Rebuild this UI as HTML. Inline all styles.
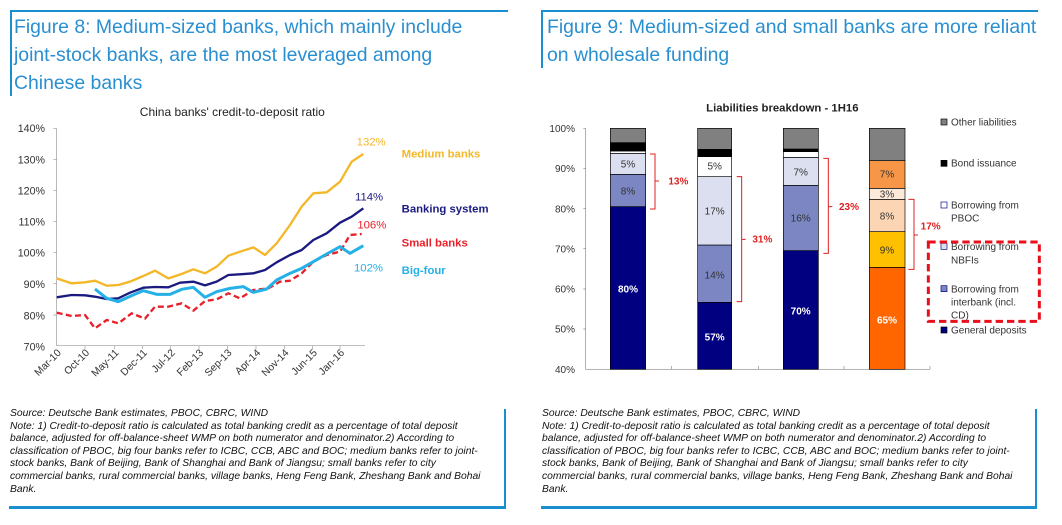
<!DOCTYPE html>
<html><head><meta charset="utf-8"><style>
body{margin:0;width:1062px;height:525px;background:#fff;position:relative;overflow:hidden;font-family:"Liberation Sans",sans-serif}
.t{position:absolute;color:#2a8fd0;font-size:19.4px;line-height:28px}
.f{position:absolute;font-size:10.3px;line-height:12.6px;font-style:italic;color:#111;width:472px}
.b{position:absolute;background:#1a8fcf}
svg{position:absolute}
</style></head><body>
<div class="b" style="left:11px;top:10px;width:497px;height:2px"></div>
<div class="b" style="left:10px;top:10px;width:2px;height:86px"></div>
<div class="t" style="left:14px;top:13px">Figure 8: Medium-sized banks, which mainly include<br>joint-stock banks, are the most leveraged among<br>Chinese banks</div>
<div class="b" style="left:542px;top:10px;width:496px;height:2px"></div>
<div class="b" style="left:541px;top:10px;width:2px;height:58px"></div>
<div class="t" style="left:547px;top:13px">Figure 9: Medium-sized and small banks are more reliant<br>on wholesale funding</div>

<svg style="left:0;top:100px" width="530" height="310" viewBox="0 0 1590 930" font-family="Liberation Sans, sans-serif">
<text x="697" y="48" font-size="36" text-anchor="middle" fill="#222">China banks' credit-to-deposit ratio</text>
<g font-size="32" fill="#333" text-anchor="end">
<text x="135" y="96">140%</text><text x="135" y="190">130%</text><text x="135" y="283">120%</text><text x="135" y="377">110%</text><text x="135" y="470">100%</text><text x="135" y="564">90%</text><text x="135" y="658">80%</text><text x="135" y="751">70%</text></g>
<g stroke="#999" stroke-width="2" fill="none"><path d="M170 85V737H1095"/>
<path d="M160 85h10M160 178h10M160 271h10M160 364h10M160 458h10M160 551h10M160 645h10M255 737v10M343 737v10M428 737v10M512 737v10M597 737v10M682 737v10M768 737v10M853 737v10M938 737v10M1020 737v10"/></g>
<g font-size="31" fill="#333" text-anchor="end">
<text transform="translate(185,760) rotate(-45)">Mar-10</text><text transform="translate(270,760) rotate(-45)">Oct-10</text><text transform="translate(358,760) rotate(-45)">May-11</text><text transform="translate(443,760) rotate(-45)">Dec-11</text><text transform="translate(527,760) rotate(-45)">Jul-12</text><text transform="translate(612,760) rotate(-45)">Feb-13</text><text transform="translate(697,760) rotate(-45)">Sep-13</text><text transform="translate(783,760) rotate(-45)">Apr-14</text><text transform="translate(868,760) rotate(-45)">Nov-14</text><text transform="translate(953,760) rotate(-45)">Jun-15</text><text transform="translate(1035,760) rotate(-45)">Jan-16</text></g>
<g fill="none" stroke-width="7" stroke-linejoin="round">
<polyline stroke="#f4b728" points="170,535 215,550 255,547 285,542 320,557 355,555 390,545 430,528 465,512 505,535 545,522 580,508 615,520 650,500 685,467 720,455 760,442 795,465 830,430 870,375 905,320 940,280 980,277 1020,245 1055,185 1090,162"/>
<polyline stroke="#1a1a80" points="170,592 215,585 255,586 285,590 320,597 355,595 390,578 430,563 465,561 505,562 540,548 580,545 615,556 650,545 685,525 720,523 760,520 795,510 830,487 870,465 905,450 940,420 980,400 1020,368 1055,350 1090,325"/>
<polyline stroke="#e8202a" stroke-dasharray="18 10" points="170,638 215,648 255,645 285,685 320,660 355,670 395,640 435,656 465,620 505,620 545,610 580,632 615,603 650,598 685,580 720,595 760,570 805,565 840,545 870,542 905,520 940,485 980,465 1020,455 1050,405 1085,402"/>
<polyline stroke="#25b0e6" stroke-width="9" points="285,567 320,595 355,605 395,587 430,572 470,583 510,583 545,568 580,562 615,592 650,575 690,565 730,560 760,577 800,567 830,540 870,520 905,505 940,485 980,462 1020,440 1050,460 1090,437"/></g>
<g font-size="34"><text x="1070" y="137" fill="#f4b728">132%</text><text x="1065" y="302" fill="#1a1a80">114%</text><text x="1072" y="386" fill="#e8202a">106%</text><text x="1062" y="515" fill="#25b0e6">102%</text></g>
<g font-size="34" font-weight="bold"><text x="1205" y="172" fill="#f4b728">Medium banks</text><text x="1205" y="338" fill="#1a1a80">Banking system</text><text x="1205" y="440" fill="#e8202a">Small banks</text><text x="1205" y="522" fill="#25b0e6">Big-four</text></g>
</svg>

<svg style="left:535px;top:100px" width="527" height="310" viewBox="0 0 1581 930" font-family="Liberation Sans, sans-serif">
<text x="742" y="35" font-size="34" text-anchor="middle" font-weight="bold" fill="#222">Liabilities breakdown  - 1H16</text>
<g font-size="30" fill="#333" text-anchor="end">
<text x="120" y="96">100%</text><text x="120" y="216">90%</text><text x="120" y="337">80%</text><text x="120" y="457">70%</text><text x="120" y="578">60%</text><text x="120" y="698">50%</text><text x="120" y="819">40%</text></g>
<g stroke="#888" stroke-width="2" fill="none"><path d="M152 85V808H1185M410 798v10M670 798v10M927 798v10M1185 798v10M145 85h7M145 205h7M145 326h7M145 446h7M145 567h7M145 687h7"/></g>
<g stroke="#000" stroke-width="2">
<rect x="226" y="320" width="106" height="488" fill="#000080"/><rect x="226" y="223" width="106" height="97" fill="#7b86c2"/><rect x="226" y="160" width="106" height="63" fill="#dcdff0"/><rect x="226" y="153" width="106" height="7" fill="#fff"/><rect x="226" y="128" width="106" height="25" fill="#000"/><rect x="226" y="85" width="106" height="43" fill="#808080"/>
<rect x="488" y="607" width="102" height="201" fill="#000080"/><rect x="488" y="435" width="102" height="172" fill="#7b86c2"/><rect x="488" y="230" width="102" height="205" fill="#dcdff0"/><rect x="488" y="170" width="102" height="60" fill="#fff"/><rect x="488" y="148" width="102" height="22" fill="#000"/><rect x="488" y="85" width="102" height="63" fill="#808080"/>
<rect x="745" y="452" width="105" height="356" fill="#000080"/><rect x="745" y="256" width="105" height="196" fill="#7b86c2"/><rect x="745" y="172" width="105" height="84" fill="#dcdff0"/><rect x="745" y="155" width="105" height="17" fill="#fff"/><rect x="745" y="147" width="105" height="8" fill="#000"/><rect x="745" y="85" width="105" height="62" fill="#808080"/>
<rect x="1003" y="502" width="107" height="306" fill="#ff6600"/><rect x="1003" y="395" width="107" height="107" fill="#ffc000"/><rect x="1003" y="298" width="107" height="97" fill="#fcd5b4"/><rect x="1003" y="265" width="107" height="33" fill="#fde9d9"/><rect x="1003" y="182" width="107" height="83" fill="#f79646"/><rect x="1003" y="85" width="107" height="97" fill="#808080"/></g>
<g font-size="30" text-anchor="middle" fill="#333">
<text x="279" y="202">5%</text><text x="279" y="283">8%</text><text x="539" y="208">5%</text><text x="539" y="343">17%</text><text x="539" y="535">14%</text><text x="797" y="226">7%</text><text x="797" y="364">16%</text><text x="1056" y="232">7%</text><text x="1056" y="292">3%</text><text x="1056" y="358">8%</text><text x="1056" y="460">9%</text></g>
<g font-size="30" text-anchor="middle" fill="#fff" font-weight="bold"><text x="279" y="578">80%</text><text x="539" y="722">57%</text><text x="797" y="644">70%</text><text x="1056" y="670">65%</text></g>
<g stroke="#e02020" stroke-width="3" fill="none"><path d="M345 162h15v165h-15M360 243h12M605 230h15v375h-15M620 418h12M865 175h15v285h-15M880 320h12M1120 298h17v210h-17M1137 405h12"/></g>
<g font-size="30" font-weight="bold" fill="#e02020"><text x="400" y="253">13%</text><text x="652" y="428">31%</text><text x="912" y="330">23%</text><text x="1157" y="388">17%</text></g>
<g stroke="#000" stroke-width="2"><rect x="1218" y="57" width="18" height="18" fill="#808080"/><rect x="1218" y="181" width="18" height="18" fill="#000"/><rect x="1218" y="306" width="18" height="18" fill="#fff" stroke="#000080"/><rect x="1218" y="430" width="18" height="18" fill="#dcdff0" stroke="#000080"/><rect x="1218" y="557" width="18" height="18" fill="#7b86c2" stroke="#000080"/><rect x="1218" y="681" width="18" height="18" fill="#000080"/></g>
<g font-size="30" fill="#333"><text x="1248" y="76">Other liabilities</text><text x="1248" y="200">Bond issuance</text><text x="1248" y="325">Borrowing from</text><text x="1248" y="364">PBOC</text><text x="1248" y="450">Borrowing from</text><text x="1248" y="490">NBFIs</text><text x="1248" y="577">Borrowing from</text><text x="1248" y="616">interbank (incl.</text><text x="1248" y="656">CD)</text><text x="1248" y="700">General deposits</text></g>
<rect x="1180" y="426" width="333" height="238" fill="none" stroke="#e8101a" stroke-width="9" stroke-dasharray="22 12"/>
</svg>

<div class="f" style="left:10px;top:408px">Source: Deutsche Bank estimates, PBOC, CBRC, WIND<br>Note: 1) Credit-to-deposit ratio is calculated as total banking credit as a percentage of total deposit balance, adjusted for off-balance-sheet WMP on both numerator and denominator.2) According to classification of PBOC, big four banks refer to ICBC, CCB, ABC and BOC; medium banks refer to joint-stock banks, Bank of Beijing, Bank of Shanghai and Bank of Jiangsu; small banks refer to city commercial banks, rural commercial banks, village banks, Heng Feng Bank, Zheshang Bank and Bohai Bank.</div>
<div class="b" style="left:9px;top:506px;width:497px;height:3px"></div>
<div class="b" style="left:504px;top:409px;width:2px;height:99px"></div>
<div class="f" style="left:542px;top:408px">Source: Deutsche Bank estimates, PBOC, CBRC, WIND<br>Note: 1) Credit-to-deposit ratio is calculated as total banking credit as a percentage of total deposit balance, adjusted for off-balance-sheet WMP on both numerator and denominator.2) According to classification of PBOC, big four banks refer to ICBC, CCB, ABC and BOC; medium banks refer to joint-stock banks, Bank of Beijing, Bank of Shanghai and Bank of Jiangsu; small banks refer to city commercial banks, rural commercial banks, village banks, Heng Feng Bank, Zheshang Bank and Bohai Bank.</div>
<div class="b" style="left:541px;top:506px;width:496px;height:3px"></div>
<div class="b" style="left:1035px;top:409px;width:2px;height:99px"></div>
</body></html>
